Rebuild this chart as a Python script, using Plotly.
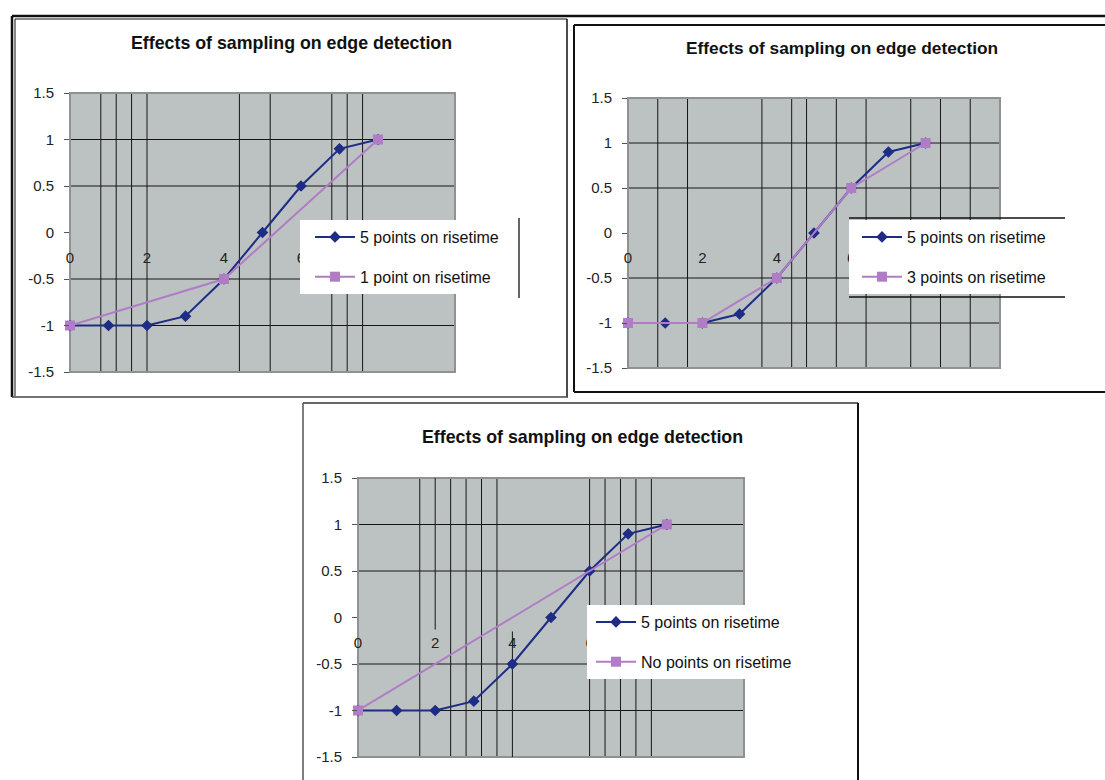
import plotly.graph_objects as go

# ---- data -------------------------------------------------------------
# densely sampled edge: five samples on the rise
x_five = [0, 1, 2, 3, 4, 5, 6, 7, 8]
y_five = [-1, -1, -1, -0.9, -0.5, 0, 0.5, 0.9, 1]

# coarser samplings of the same edge
x_one = [0, 4, 8]
y_one = [-1, -0.5, 1]

x_three = [0, 2, 4, 6, 8]
y_three = [-1, -1, -0.5, 0.5, 1]

x_none = [0, 8]
y_none = [-1, 1]

series_names = ["5 points on risetime", "1 point on risetime",
                "3 points on risetime", "No points on risetime"]
title_text = "Effects of sampling on edge detection"

y_tick_vals = [-1.5, -1, -0.5, 0, 0.5, 1, 1.5]
y_tick_labels = ["-1.5", "-1", "-0.5", "0", "0.5", "1", "1.5"]
x_tick_vals = [0, 2, 4, 6, 8, 10]
x_tick_labels = ["0", "2", "4", "6", "8", "10"]

# horizontal grid rows and the (irregular) vertical grid columns of each panel
h_grid = [-1, -0.5, 0.5, 1]
v_grid_1 = [0.8, 1.2, 1.6, 2.0, 4.4, 5.2, 6.8, 7.2, 7.6]
v_grid_2 = [0.8, 1.6, 3.6, 4.4, 4.8, 5.6, 6.4, 7.6, 8.4, 9.2]
v_grid_3 = [1.6, 2.4, 2.8, 3.2, 3.6, 6.0, 6.4, 6.8, 7.2, 7.6]
# panel 3 columns that are only partly drawn: (x, y_from, y_to)
v_grid_3_partial = [(2.0, -0.13, 1.5), (4.0, -1.5, -0.15)]

# ---- styling ----------------------------------------------------------
W, H = 1105, 780
FONT = "Liberation Sans, Arial, Helvetica, sans-serif"
BLUE = "#1E2C86"
PINK = "#B07CC6"
PLOT_BG = "#BCC2C1"
GRID = "#161616"
FRAME_GRAY = "#8E9292"


def fx(px):
    return min(max(px, 0), W) / W


def fy(py):
    return 1 - min(max(py, 0), H) / H


fig = go.Figure()

# panel geometry in page pixels: left, right, top, bottom
panels = [
    dict(n="", l=70, r=455, t=93, b=372, grid=v_grid_1,
         other=(x_one, y_one, series_names[1]),
         title=(291, 43, 17.8), leg=(300, 220, 10)),
    dict(n="2", l=628, r=1000, t=98, b=368, grid=v_grid_2,
         other=(x_three, y_three, series_names[2]),
         title=(842, 48, 17.3), leg=(849, 220, 8)),
    dict(n="3", l=358, r=744, t=478, b=757, grid=v_grid_3,
         other=(x_none, y_none, series_names[3]),
         title=(582, 437, 17.8), leg=(587, 605, 4)),
]

shapes = []
annotations = []
layout_axes = {}

for p in panels:
    n = p["n"]
    xa, ya = "x" + n, "y" + n
    leg = "legend" + n

    fig.add_trace(go.Scatter(
        x=x_five, y=y_five, name=series_names[0], xaxis=xa, yaxis=ya,
        mode="lines+markers", legend=leg, legendgroup="a" + n,
        line=dict(color=BLUE, width=2),
        marker=dict(symbol="diamond", size=9, color=BLUE),
        cliponaxis=False))
    ox, oy, oname = p["other"]
    fig.add_trace(go.Scatter(
        x=ox, y=oy, name=oname, xaxis=xa, yaxis=ya,
        mode="lines+markers", legend=leg, legendgroup="b" + n,
        line=dict(color=PINK, width=2),
        marker=dict(symbol="square", size=10, color=PINK),
        cliponaxis=False))

    zero_px = p["t"] + (p["b"] - p["t"]) / 2
    layout_axes["xaxis" + n] = dict(
        domain=[fx(p["l"]), fx(p["r"])], range=[0, 10],
        anchor="free", position=fy(zero_px),
        tickvals=x_tick_vals, ticktext=x_tick_labels,
        showgrid=False, zeroline=False, showline=False, ticks="",
        ticklabelstandoff=14,
        tickfont=dict(family=FONT, size=15, color="#222"))
    layout_axes["yaxis" + n] = dict(
        domain=[fy(p["b"]), fy(p["t"])], range=[-1.5, 1.5],
        anchor=xa,
        tickvals=y_tick_vals, ticktext=y_tick_labels,
        showgrid=False, zeroline=False, showline=False,
        ticks="outside", ticklen=5, tickcolor="#555", tickwidth=1,
        ticklabelstandoff=7,
        tickfont=dict(family=FONT, size=15, color="#222"))

    xdom, ydom = xa + " domain", ya + " domain"
    for gy in h_grid:
        shapes.append(dict(type="line", xref=xdom, yref=ya, x0=0, x1=1,
                           y0=gy, y1=gy, layer="below",
                           line=dict(color=GRID, width=1)))
    for gx in p["grid"]:
        shapes.append(dict(type="line", xref=xa, yref=ydom, x0=gx, x1=gx,
                           y0=0, y1=1, layer="below",
                           line=dict(color=GRID, width=1)))
    if n == "3":
        for gx, y0, y1 in v_grid_3_partial:
            shapes.append(dict(type="line", xref=xa, yref=ya, x0=gx, x1=gx,
                               y0=y0, y1=y1, layer="below",
                               line=dict(color=GRID, width=1)))
    # plot-area border
    shapes.append(dict(type="rect", xref=xdom, yref=ydom, x0=0, x1=1,
                       y0=0, y1=1, layer="below",
                       line=dict(color=FRAME_GRAY, width=2)))

    tx, ty, ts = p["title"]
    annotations.append(dict(
        text=title_text, x=fx(tx), y=fy(ty), xref="paper", yref="paper",
        xanchor="center", yanchor="middle", showarrow=False,
        font=dict(family=FONT, size=ts, color="#111", weight="bold")))

    lx, ly, indent = p["leg"]
    layout_axes[leg] = dict(
        x=fx(lx), y=fy(ly), xanchor="left", yanchor="top",
        bgcolor="white", borderwidth=0, traceorder="grouped",
        tracegroupgap=16, itemwidth=40, indentation=indent,
        font=dict(family=FONT, size=16, color="#111"))


# page frames around the three charts (kept inside the page)
def seg(x0, y0, x1, y1, w, c="#111"):
    return dict(type="line", xref="paper", yref="paper",
                x0=fx(x0), y0=fy(y0), x1=fx(x1), y1=fy(y1),
                line=dict(color=c, width=w))


shapes += [
    seg(12, 16, 1105, 16, 2.5),          # long top rule
    seg(12, 16, 12, 397, 2.5),           # panel 1 outer left
    seg(15, 19, 567, 19, 1),             # panel 1 inner frame
    seg(15, 19, 15, 396, 1),
    seg(567, 19, 567, 397, 1.5),
    seg(12, 397, 568, 397, 1.5, "#444"),
    seg(574, 25, 1105, 25, 2),           # panel 2 frame
    seg(574, 25, 574, 392, 2),
    seg(574, 392, 1105, 392, 2),
    seg(303, 403, 858, 403, 1.5, "#333"),  # panel 3 frame
    seg(303, 403, 303, 780, 1.5, "#555"),
    seg(858, 403, 858, 780, 2),
    # legend edges
    seg(519, 218, 519, 298, 1.5, "#333"),
    seg(849, 218, 1065, 218, 1.5),
    seg(849, 297, 1065, 297, 1.5),
]

fig.update_layout(
    width=W, height=H,
    margin=dict(l=0, r=0, t=0, b=0, autoexpand=False),
    paper_bgcolor="white", plot_bgcolor=PLOT_BG,
    showlegend=True, shapes=shapes, annotations=annotations,
    font=dict(family=FONT),
    **layout_axes)

fig.write_html("out.html")
